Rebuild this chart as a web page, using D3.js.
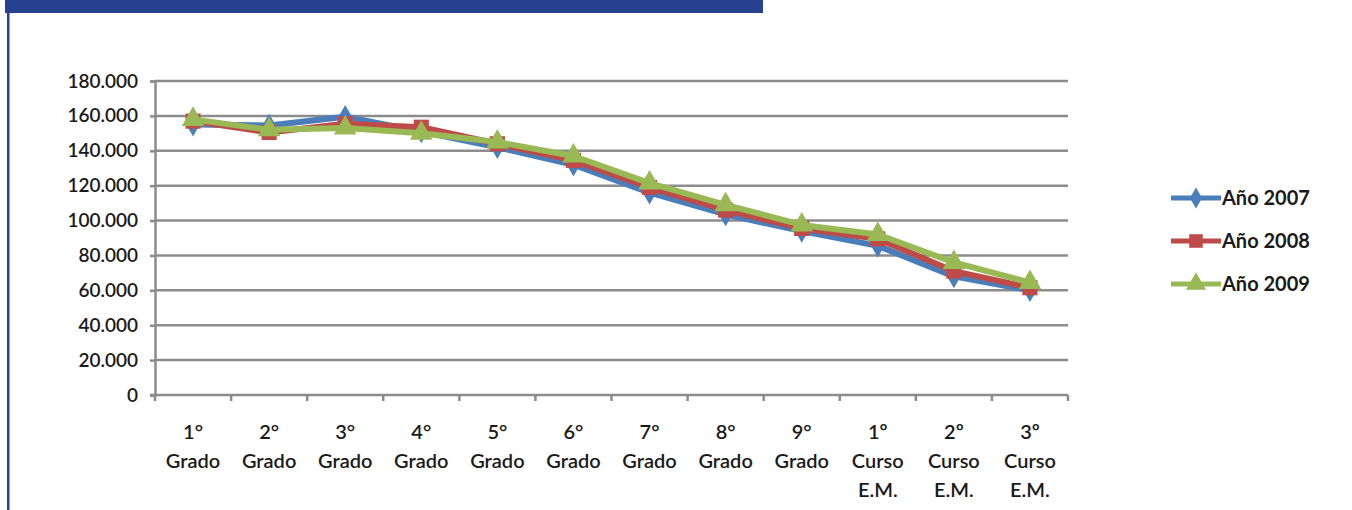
<!DOCTYPE html>
<html>
<head>
<meta charset="utf-8">
<script src="https://cdn.jsdelivr.net/npm/d3@7"></script>
<style>
  html, body { margin: 0; padding: 0; background: #fff; }
  svg { display: block; }
  text { font-family: Lato, "Open Sans", sans-serif; fill: #1a1a1a; }
</style>
</head>
<body>
<svg id="chart" width="1352" height="510"></svg>
<script>
// Enrolment by grade, three school years
const categories = [
  ["1°", "Grado"], ["2°", "Grado"], ["3°", "Grado"], ["4°", "Grado"],
  ["5°", "Grado"], ["6°", "Grado"], ["7°", "Grado"], ["8°", "Grado"],
  ["9°", "Grado"], ["1º", "Curso", "E.M."], ["2º", "Curso", "E.M."], ["3º", "Curso", "E.M."]
];
const year2007 = [155000, 154500, 159500, 151000, 142000, 132000, 116000, 103500, 94000, 85500, 68000, 60000];
const year2008 = [157000, 150500, 155500, 153500, 144000, 134500, 119000, 106000, 95500, 89500, 71000, 61500];
const year2009 = [158000, 152000, 153000, 150000, 145000, 137000, 121500, 109000, 97500, 92000, 76000, 64500];
const seriesNames = ["Año 2007", "Año 2008", "Año 2009"];
const yTicks = [0, 20000, 40000, 60000, 80000, 100000, 120000, 140000, 160000, 180000];

const svg = d3.select("#chart");

// page frame: blue header band and left rule
svg.append("rect").attr("x", 5).attr("y", 0).attr("width", 758).attr("height", 13).attr("fill", "#25418f");
svg.append("rect").attr("x", 7).attr("y", 12).attr("width", 2.5).attr("height", 498).attr("fill", "#25418f");

const plot = { left: 155, right: 1068, top: 81, bottom: 395 };

const x = d3.scaleBand().domain(d3.range(categories.length)).range([plot.left, plot.right]).padding(0);
const y = d3.scaleLinear().domain([0, 180000]).range([plot.bottom, plot.top]);

const fmt = v => d3.format(",")(v).replace(/,/g, ".");
const gridColor = "#8c8c8c";

// horizontal grid
svg.append("g").selectAll("line").data(yTicks.filter(d => d > 0)).join("line")
  .attr("x1", plot.left).attr("x2", plot.right)
  .attr("y1", d => y(d)).attr("y2", d => y(d))
  .attr("stroke", gridColor).attr("stroke-width", 2.5);

// y axis
const yAxis = svg.append("g").attr("transform", `translate(${plot.left},0)`)
  .call(d3.axisLeft(y).tickValues(yTicks).tickFormat(d => d === 0 ? "0" : fmt(d)).tickSize(5).tickPadding(12));
yAxis.select(".domain").attr("stroke", gridColor).attr("stroke-width", 2.5);
yAxis.selectAll(".tick line").attr("stroke", gridColor).attr("stroke-width", 2.5);
yAxis.selectAll(".tick text").style("font-size", "19px").style("font-weight", "600").attr("fill", "#1a1a1a");

// x axis: ticks on category boundaries
svg.append("line").attr("x1", plot.left - 5).attr("x2", plot.right)
  .attr("y1", plot.bottom).attr("y2", plot.bottom).attr("stroke", gridColor).attr("stroke-width", 2.5);
svg.append("g").selectAll("line").data(d3.range(categories.length + 1)).join("line")
  .attr("x1", i => plot.left + i * x.bandwidth()).attr("x2", i => plot.left + i * x.bandwidth())
  .attr("y1", plot.bottom).attr("y2", plot.bottom + 6)
  .attr("stroke", gridColor).attr("stroke-width", 2.5);

const xLabels = svg.append("g").selectAll("text").data(categories).join("text")
  .attr("text-anchor", "middle")
  .attr("x", (d, i) => x(i) + x.bandwidth() / 2)
  .attr("y", 439)
  .style("font-size", "20px").style("font-weight", "600");
xLabels.each(function(d, i) {
  const t = d3.select(this);
  d.forEach((line, k) => {
    t.append("tspan").attr("x", x(i) + x.bandwidth() / 2).attr("dy", k === 0 ? 0 : 29).text(line);
  });
});

// series
const colors = ["#4a7ebb", "#be4b48", "#98b954"];
const data = [year2007, year2008, year2009];
const cx = i => x(i) + x.bandwidth() / 2;
const line = d3.line().x((d, i) => cx(i)).y(d => y(d));

const symbols = [d3.symbolDiamond, d3.symbolSquare, d3.symbolTriangle];
const symSizes = [160, 230, 220];

data.forEach((vals, s) => {
  svg.append("path").datum(vals).attr("d", line)
    .attr("fill", "none").attr("stroke", colors[s]).attr("stroke-width", 6).attr("stroke-linejoin", "round");
  svg.append("g").selectAll("path").data(vals).join("path")
    .attr("d", d3.symbol().type(symbols[s]).size(symSizes[s]))
    .attr("transform", (d, i) => `translate(${cx(i)},${y(d)})`)
    .attr("fill", colors[s]);
});

// legend
const legend = svg.append("g");
seriesNames.forEach((name, s) => {
  const ly = 198 + s * 43;
  legend.append("line").attr("x1", 1171).attr("x2", 1221).attr("y1", ly).attr("y2", ly)
    .attr("stroke", colors[s]).attr("stroke-width", 5);
  legend.append("path").attr("d", d3.symbol().type(symbols[s]).size(symSizes[s] * 0.8))
    .attr("transform", `translate(1196,${ly})`).attr("fill", colors[s]);
  legend.append("text").attr("x", 1222).attr("y", ly + 7).text(name)
    .style("font-size", "20px").style("font-weight", "700");
});
</script>
</body>
</html>
